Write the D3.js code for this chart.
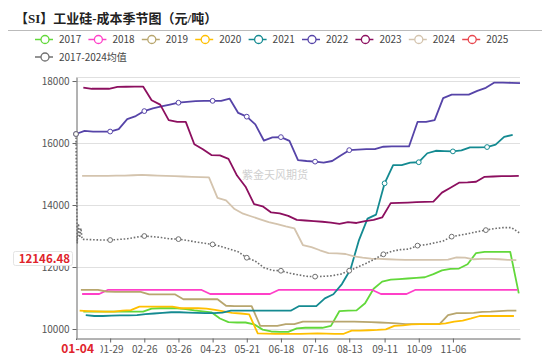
<!DOCTYPE html>
<html><head><meta charset="utf-8">
<script src="https://cdn.jsdelivr.net/npm/d3@7"></script>
<style>body{margin:0;background:#fff}svg{display:block}</style>
</head><body>
<svg id="chart" width="550" height="357"></svg>
<script>
// ---------- data ----------
const title = "【SI】工业硅-成本季节图（元/吨）";
const seriesNames = ["2017","2018","2019","2020","2021","2022","2023","2024","2025"];
const avgName = "2017-2024均值";
const seriesColors = ["#62d83a","#ff40c8","#b8a66e","#ffbf00","#148a91","#5644a8","#8c0f5f","#d4c4ae","#e8474f"];
// first weekly date (Saturday) of each year's series
const firstDates = ["2017-01-07","2018-01-06","2019-01-05","2020-01-04","2021-01-09","2022-01-01","2023-01-07","2024-01-06","2025-01-04"];
const v2017 = [10560,10560,10560,10560,10560,10560,10560,10560,10660,10670,10670,10670,10640,10600,10570,10540,10340,10220,10210,10210,10150,9980,9920,9910,9910,10020,10040,10040,10040,10100,10580,10590,10600,10830,11300,11530,11590,11610,11630,11650,11670,11770,11890,11940,11950,12090,12450,12490,12490,12490,12490,11150];
const v2018 = [11130,11130,11130,11260,11260,11260,11260,11260,11260,11260,11260,11260,11260,11260,11260,11130,11130,11130,11130,11130,11130,11130,11130,11260,11260,11260,11260,11260,11260,11260,11260,11260,11260,11260,11260,11130,11130,11130,11130,11260,11260,11260,11260,11260,11260,11260,11260,11260,11260,11260,11260,11260];
const v2019 = [11260,11260,11260,11210,11200,11200,11200,11200,11120,11120,11120,11120,10960,10960,10960,10960,10960,10750,10740,10740,10740,10100,10100,10100,10160,10160,10240,10240,10240,10240,10240,10240,10240,10230,10220,10210,10200,10180,10160,10160,10160,10160,10160,10450,10510,10510,10520,10550,10560,10580,10590,10590];
const v2020 = [10590,10580,10570,10560,10560,10590,10610,10720,10720,10720,10720,10720,10670,10670,10670,10660,10620,10570,10520,10500,10470,9860,9850,9840,9840,9840,9840,9850,9860,9850,9840,9840,9950,9950,9960,9970,9990,10100,10120,10150,10160,10160,10160,10180,10240,10270,10340,10420,10420,10420,10420,10420];
const v2021 = [10450,10420,10420,10430,10440,10440,10450,10480,10500,10520,10540,10540,10530,10520,10510,10510,10530,10590,10590,10590,10590,10590,10590,10590,10590,10740,10740,10740,10990,11120,11450,11920,12870,13560,13690,14700,15290,15290,15370,15380,15670,15750,15740,15730,15760,15860,15860,15870,15950,16200,16260];
const v2022 = [16290,16390,16370,16370,16370,16450,16770,16870,17030,17120,17180,17240,17300,17330,17350,17360,17360,17360,17430,16970,16850,16600,16080,16180,16190,16070,15450,15420,15400,15370,15420,15600,15770,15790,15800,15800,15880,15890,15890,15890,16680,16680,16740,17450,17560,17560,17560,17680,17780,17950,17950,17940,17930];
const v2023 = [17790,17750,17750,17750,17810,17815,17820,17820,17380,17240,16740,16680,16680,15960,15800,15610,15600,15490,14950,14590,14030,13960,13760,13730,13650,13520,13500,13480,13460,13430,13390,13450,13420,13480,13520,13600,14060,14070,14080,14090,14100,14110,14400,14560,14720,14730,14750,14910,14920,14930,14930,14940];
const v2024 = [14940,14940,14940,14940,14950,14950,14960,14970,14960,14950,14940,14930,14920,14910,14900,14890,14230,14150,13870,13720,13630,13540,13450,13380,13310,13250,12710,12640,12540,12450,12440,12420,12340,12300,12270,12260,12250,12240,12230,12230,12230,12230,12230,12240,12310,12300,12250,12260,12260,12250,12230,12220];
const v2025 = [];
// 2017-2024 average: first week daily (01-01..01-07), then weekly from 01-08
const avgHeadDaily = [16290,12780,13400,12950,13250,12900,12890];
const avgWeekly = [12890,12880,12870,12870,12890,12910,12960,13000,12980,12950,12910,12900,12860,12810,12770,12730,12660,12580,12490,12300,12190,11980,11890,11880,11800,11750,11700,11690,11700,11720,11770,11880,12000,12120,12260,12410,12510,12560,12580,12690,12720,12780,12840,12980,13030,13080,13140,13190,13240,13270,13270,13090];
const xTickLabels = ["01-01","01-29","02-26","03-26","04-23","05-21","06-18","07-16","08-13","09-11","10-09","11-06"];
const markerTickLabels = ["01-01","01-29","02-26","03-26","04-23","05-21","06-18","07-16","08-13","09-11","10-09","11-06","12-04"];
const yTickValues = [10000,12000,14000,16000,18000];
const pointerX = "01-04";
const pointerY = 12146.48;
const watermark = "紫金天风期货";

// ---------- build ----------
const allValues = [v2017,v2018,v2019,v2020,v2021,v2022,v2023,v2024,v2025];
const parse = d3.timeParse("%Y-%m-%d");
const ref = dt => new Date(2021, dt.getMonth(), dt.getDate());
const refMD = md => parse("2021-" + md);

const series = seriesNames.map((name, i) => {
  const start = parse(firstDates[i]);
  return {name, color: seriesColors[i], tol: 0,
    pts: allValues[i].map((v, k) => ({date: ref(d3.timeDay.offset(start, 7*k)), v}))};
});
const avgStart = parse("2021-01-01");
const avgPts = avgHeadDaily.map((v,k)=>({date: d3.timeDay.offset(avgStart,k), v}))
  .concat(avgWeekly.map((v,k)=>({date: d3.timeDay.offset(avgStart, 7*(k+1)), v})));
const avgSeries = {name: avgName, color: "#707070", pts: avgPts, tol: 1, dotted: true};

const svg = d3.select("#chart");
const FONT = "'Noto Sans CJK SC','Noto Sans',sans-serif";

const x = d3.scaleTime().domain([new Date(2021,0,1), new Date(2021,11,31)]).range([76, 520]);
const y = d3.scaleLinear().domain([9710, 18120]).range([338, 77.3]);

// title
svg.append("text").attr("x", 15).attr("y", 22.5).text(title)
  .attr("font-family", "'Liberation Serif','Noto Sans CJK SC',serif").attr("font-weight", "bold")
  .attr("font-size", 13).attr("fill", "#222");
svg.append("line").attr("x1", 8).attr("x2", 542).attr("y1", 30.5).attr("y2", 30.5)
  .attr("stroke", "#bbb").attr("stroke-width", 1);

// legend
const legendItems = series.concat([avgSeries]);
legendItems.forEach((s, i) => {
  const row = i < 9 ? 0 : 1;
  const col = i < 9 ? i : 0;
  const gx = 35 + col * 53.4, gy = row === 0 ? 39.5 : 57;
  const g = svg.append("g").attr("transform", `translate(${gx},${gy})`);
  g.append("line").attr("x1", 0).attr("x2", 18).attr("stroke", s.color).attr("stroke-width", 1.5);
  g.append("circle").attr("cx", 10).attr("r", 4).attr("fill", "#fff").attr("stroke", s.color).attr("stroke-width", 1.3);
  g.append("text").attr("x", 24).attr("dy", "0.35em").text(s.name)
    .attr("font-family", FONT).attr("font-size", 10).attr("fill", "#444");
});

// grid
svg.append("g").selectAll("line").data(yTickValues.concat([18120])).join("line")
  .attr("x1", 76).attr("x2", 520).attr("y1", d => Math.round(y(d))+0.5).attr("y2", d => Math.round(y(d))+0.5)
  .attr("stroke", "#e0e0e0").attr("stroke-width", 1);

// watermark
svg.append("text").attr("x", 275).attr("y", 179).attr("text-anchor", "middle").text(watermark)
  .attr("font-family", FONT).attr("font-size", 11).attr("fill", "#cfcfcf");

// y axis
const yAxis = svg.append("g").attr("transform", "translate(76.5,0)")
  .call(d3.axisLeft(y).tickValues(yTickValues).tickSize(4).tickSizeOuter(0).tickPadding(3).tickFormat(d3.format("d")));
yAxis.select(".domain").attr("stroke", "#666");
yAxis.selectAll(".tick line").attr("stroke", "#666");
yAxis.selectAll("text").attr("font-family", FONT).attr("font-size", 10).attr("fill", "#555");

// x axis (first label lies under the axis-pointer label, so it is left blank)
const xAxis = svg.append("g").attr("transform", "translate(0,338.5)")
  .call(d3.axisBottom(x).tickValues(xTickLabels.map(refMD))
    .tickFormat((d, i) => i === 0 ? "" : d3.timeFormat("%m-%d")(d)).tickSize(4).tickSizeOuter(0).tickPadding(3));
xAxis.select(".domain").attr("stroke", "#666");
xAxis.selectAll(".tick line").attr("stroke", "#666");
xAxis.selectAll("text").attr("font-family", FONT).attr("font-size", 10).attr("fill", "#555");

// lines
const line = d3.line().x(d => x(d.date)).y(d => y(d.v));
const drawOrder = series.concat([avgSeries]);
drawOrder.forEach(s => {
  if (s.pts.length < 2) return;
  svg.append("path").datum(s.pts).attr("d", line).attr("fill", "none")
    .attr("stroke", s.color).attr("stroke-width", s.dotted ? 1.6 : 1.8)
    .attr("stroke-dasharray", s.dotted ? "1.6,1.8" : null)
    .attr("stroke-linejoin", "round");
});
// markers at labelled category positions
const markerDates = markerTickLabels.map(refMD);
drawOrder.forEach(s => {
  const marks = [];
  markerDates.forEach(md => {
    let best = null, bd = Infinity;
    s.pts.forEach(p => { const dd = Math.abs(p.date - md) / 864e5; if (dd < bd) { bd = dd; best = p; } });
    if (best && bd <= s.tol + 0.01) marks.push(best);
  });
  svg.append("g").selectAll("circle").data(marks).join("circle")
    .attr("cx", d => x(d.date)).attr("cy", d => y(d.v)).attr("r", 2.4)
    .attr("fill", "#fff").attr("stroke", s.color).attr("stroke-width", 1);
});

// axis pointer labels
const px = x(refMD(pointerX));
svg.append("rect").attr("x", px - 21).attr("y", 340).attr("width", 42).attr("height", 17).attr("fill", "#fff");
svg.append("text").attr("x", px - 2).attr("y", 348.5).attr("dy", "0.35em").attr("text-anchor", "middle")
  .text(pointerX).attr("font-family", FONT).attr("font-weight", "bold").attr("font-size", 12).attr("fill", "#e0232b");
const py = y(pointerY) - 4;
svg.append("rect").attr("x", 13.5).attr("y", py - 7).attr("width", 59).attr("height", 14).attr("rx", 2)
  .attr("fill", "#fff").attr("stroke", "#e4e4e4");
svg.append("text").attr("x", 70).attr("y", py).attr("dy", "0.36em").attr("text-anchor", "end")
  .text(d3.format(".2f")(pointerY)).attr("font-family", FONT).attr("font-weight", "bold").attr("font-size", 11.5).attr("fill", "#e0232b");
</script>
</body></html>
